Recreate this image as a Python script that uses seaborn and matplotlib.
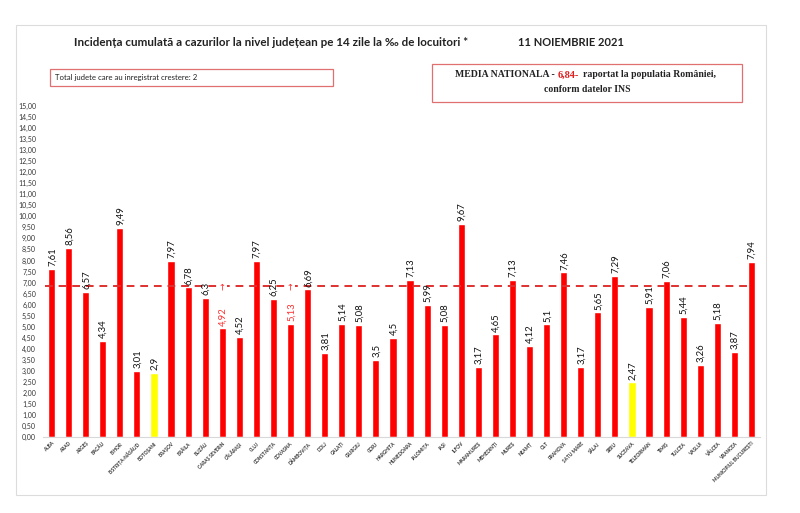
import matplotlib
matplotlib.use("Agg")
import matplotlib.pyplot as plt
import seaborn as sns
from matplotlib.patches import Rectangle

# data
counties = ["ALBA", "ARAD", "ARGEȘ", "BACĂU", "BIHOR", "BISTRIȚA-NĂSĂUD", "BOTOȘANI",
            "BRAȘOV", "BRĂILA", "BUZĂU", "CARAȘ SEVERIN", "CĂLĂRAȘI", "CLUJ", "CONSTANȚA",
            "COVASNA", "DÂMBOVIȚA", "DOLJ", "GALAȚI", "GIURGIU", "GORJ", "HARGHITA",
            "HUNEDOARA", "IALOMIȚA", "IAȘI", "ILFOV", "MARAMUREȘ", "MEHEDINȚI", "MUREȘ",
            "NEAMȚ", "OLT", "PRAHOVA", "SATU MARE", "SĂLAJ", "SIBIU", "SUCEAVA",
            "TELEORMAN", "TIMIȘ", "TULCEA", "VASLUI", "VÂLCEA", "VRANCEA",
            "MUNICIPIUL BUCUREȘTI"]
values = [7.61, 8.56, 6.57, 4.34, 9.49, 3.01, 2.9, 7.97, 6.78, 6.3, 4.92, 4.52, 7.97,
          6.25, 5.13, 6.69, 3.81, 5.14, 5.08, 3.5, 4.5, 7.13, 5.99, 5.08, 9.67, 3.17,
          4.65, 7.13, 4.12, 5.1, 7.46, 3.17, 5.65, 7.29, 2.47, 5.91, 7.06, 5.44, 3.26,
          5.18, 3.87, 7.94]
lowest = ["BOTOȘANI", "SUCEAVA"]          # yellow bars
increased = ["CARAȘ SEVERIN", "COVASNA"]  # red labels with arrow
national_mean = 6.84
y_ticks = [i * 0.5 for i in range(31)]

W, H = 800, 513
fig = plt.figure(figsize=(W / 100, H / 100), dpi=100)
sns.set_style("white")
plt.rcParams['font.family'] = ['Lato', 'DejaVu Sans']


def fx(px):
    return px / W


def fy(py):
    return 1 - py / H


# outer light frame
fig.patches.append(Rectangle((fx(16), fy(495)), fx(766) - fx(16), fy(25) - fy(495),
                             transform=fig.transFigure, fill=False,
                             edgecolor="#dcdcdc", linewidth=0.8))

ax = fig.add_axes([fx(43), fy(437), fx(760) - fx(43), fy(106) - fy(437)])

colors = ["#ffff00" if c in lowest else "#ff0000" for c in counties]
sns.barplot(x=counties, y=values, hue=counties, palette=colors, legend=False,
            width=0.42, saturation=1, ax=ax)

ax.set_ylim(0, 15)
ax.set_xlim(-0.5, len(counties) - 0.5)
ax.set_yticks(y_ticks)
ax.set_yticklabels([f"{t:.2f}".replace(".", ",") for t in y_ticks],
                   fontsize=5, color="#333333")
ax.set_xticks(range(len(counties)))
ax.set_xticklabels(counties, rotation=45, ha="right", rotation_mode="anchor",
                   fontsize=3.4, color="#333333", fontweight="bold")
ax.tick_params(axis="both", length=0, pad=3)
ax.tick_params(axis="y", pad=5)
for s in ["left", "top", "right"]:
    ax.spines[s].set_visible(False)
ax.spines["bottom"].set_color("#d8d8d8")
ax.spines["bottom"].set_linewidth(0.8)
ax.set_xlabel("")
ax.set_ylabel("")

ax.axhline(national_mean, xmin=0.003, xmax=0.989, color="#e03030",
           linewidth=1.4, linestyle=(0, (4, 3)), zorder=1)

for i, (c, v) in enumerate(zip(counties, values)):
    label = f"{v:g}".replace(".", ",")
    col = "#ff3030" if c in increased else "#111111"
    ax.annotate(label, (i, v), xytext=(0.5, 2), textcoords="offset points",
                rotation=90, ha="center", va="bottom", fontsize=6.8, color=col,
                annotation_clip=False)
    if c in increased:
        ax.text(i, national_mean, "→", rotation=90, ha="center", va="center",
                fontsize=6.5, color="#ff3030", family=["DejaVu Sans"], zorder=6,
                bbox=dict(facecolor="white", edgecolor="none", pad=0.3))

# titles
fig.text(fx(74), fy(42), "Incidența cumulată a cazurilor la nivel județean pe 14 zile la ‰ de locuitori *",
         fontsize=8.4, fontweight="bold", color="#222222", va="center", ha="left")
fig.text(fx(518), fy(42), "11 NOIEMBRIE 2021", fontsize=8, fontweight="bold",
         color="#222222", va="center", ha="left")

# left info box
fig.patches.append(Rectangle((fx(50), fy(86)), fx(333) - fx(50), fy(69) - fy(86),
                             transform=fig.transFigure, facecolor="white",
                             edgecolor="#e07070", linewidth=0.9))
fig.text(fx(55), fy(77.5), "Total judete care au inregistrat crestere: 2",
         fontsize=5.6, color="#222222", va="center", ha="left")

# national mean box
fig.patches.append(Rectangle((fx(432), fy(102)), fx(742) - fx(432), fy(64) - fy(102),
                             transform=fig.transFigure, facecolor="white",
                             edgecolor="#e07070", linewidth=0.9))
serif = ["Liberation Serif", "DejaVu Serif"]
fig.canvas.draw()
renderer = fig.canvas.get_renderer()
pieces = [("MEDIA NATIONALA - ", "#222222"), (f"{national_mean:.2f}".replace(".", ",") + "-", "#e02020"),
          ("  raportat la populatia României,", "#222222")]
x = 455
for txt, col in pieces:
    t = fig.text(fx(x), fy(75), txt, fontsize=7.4 if col == "#e02020" else 7.0,
                 fontweight="bold", color=col, va="center", ha="left", family=serif)
    bb = t.get_window_extent(renderer)
    x += bb.width
fig.text(fx(587), fy(90), "conform datelor INS", fontsize=7.0, fontweight="bold",
         color="#222222", va="center", ha="center", family=serif)

fig.savefig("out.png", dpi=100, facecolor="white")
